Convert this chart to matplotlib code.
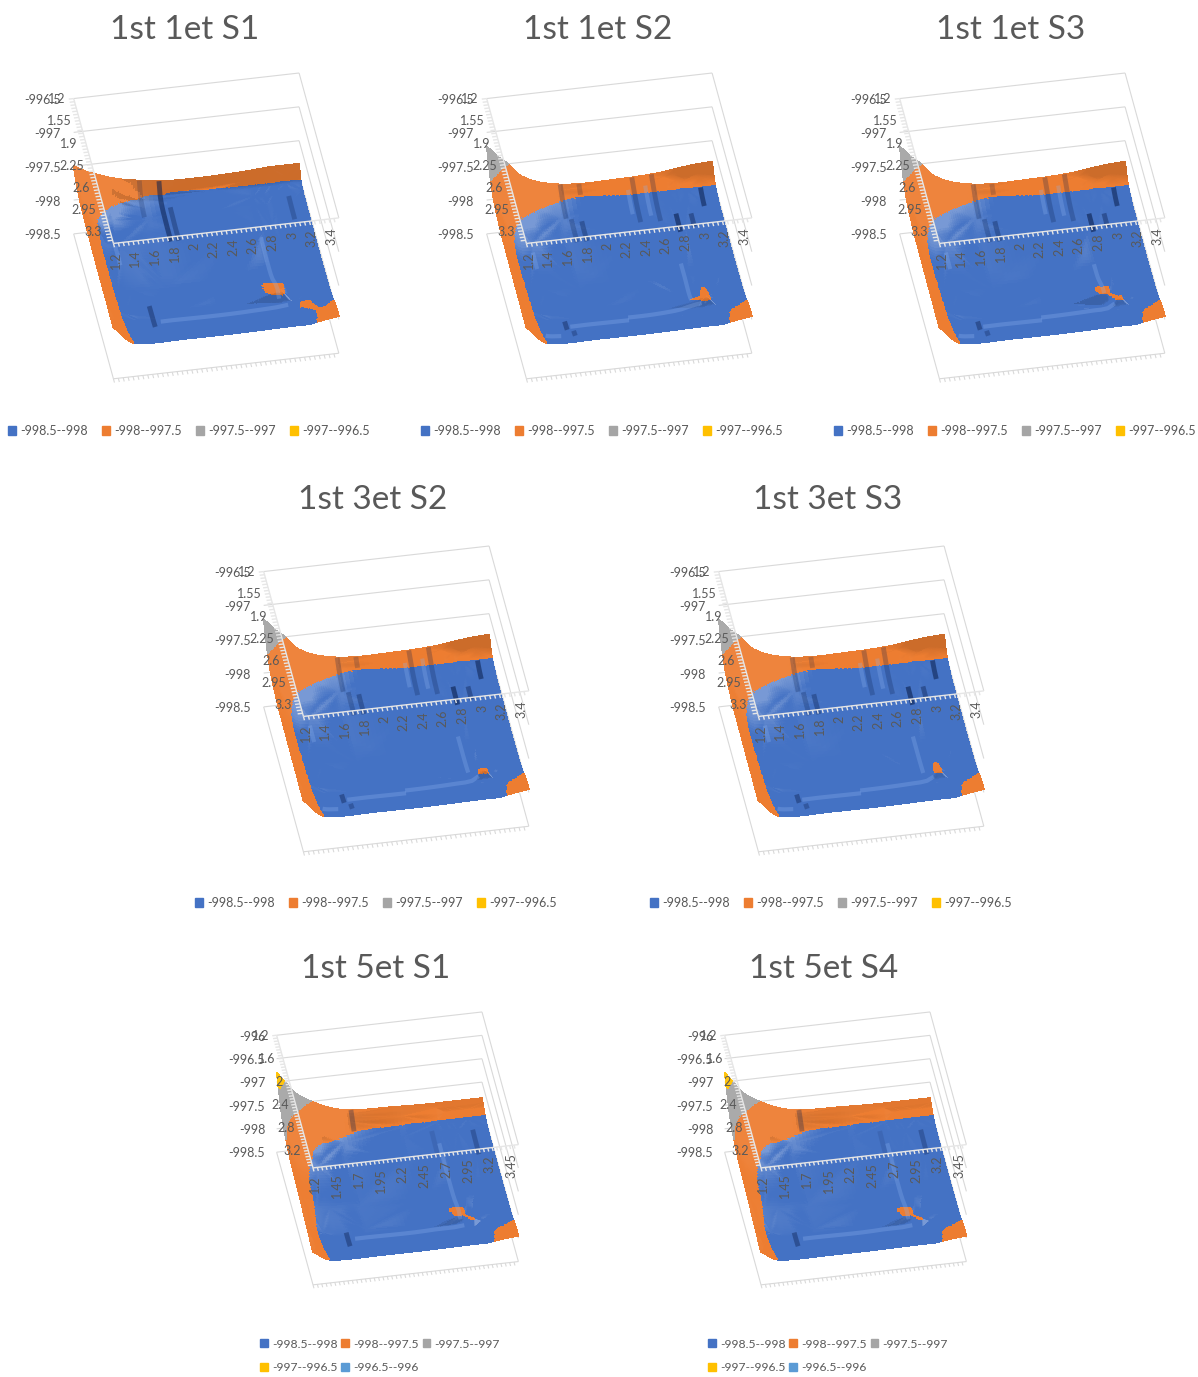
import numpy as np
import matplotlib
matplotlib.use('Agg')
import matplotlib.pyplot as plt
import matplotlib.tri as mtri
from matplotlib.patches import Patch
from mpl_toolkits.mplot3d import proj3d
from mpl_toolkits.mplot3d.art3d import Poly3DCollection, Line3DCollection

W, H = 1198, 1377
plt.rcParams['font.family'] = ['Lato', 'DejaVu Sans']

# energy above -998, rows = y knots, columns = x knots
X_KNOTS = [1.2, 1.25, 1.3, 1.4, 1.55, 1.9, 2.6, 3.0, 3.1, 3.2, 3.35, 3.5]
Y_KNOTS = [1.2, 1.25, 1.3, 1.4, 1.55, 1.9, 2.6, 3.0, 3.1, 3.2, 3.35, 3.5]
X_KNOTS_5ET = [1.2, 1.25, 1.3, 1.4, 1.55, 1.9, 2.6, 3.0, 3.1, 3.2, 3.35, 3.55]

Z_S1 = [
    [.50, .46, .42, .36, .28, .17, .12, .14, .15, .16, .16, .16],
    [.47, .42, .37, .30, .20, .04, .03, .05, .05, .05, .05, .05],
    [.44, .37, .30, .20, .08, -.02, -.01, -.01, -.01, -.01, -.01, -.01],
    [.38, .30, .22, .10, -.02, -.07, -.06, -.06, -.06, -.06, -.05, -.05],
    [.34, .22, .12, -.02, -.07, -.09, -.08, -.08, -.08, -.08, -.07, -.06],
    [.30, .18, .07, -.05, -.08, -.10, -.10, -.09, -.09, -.09, -.08, -.07],
    [.27, .15, .05, -.05, -.10, -.12, -.12, -.11, -.11, -.10, -.09, -.07],
    [.27, .16, .06, -.04, -.09, -.11, -.11, -.08, -.07, -.07, -.06, -.05],
    [.27, .16, .06, -.04, -.09, -.10, -.10, -.07, -.06, -.06, -.05, -.03],
    [.27, .17, .07, -.03, -.08, -.09, -.09, -.06, -.05, -.04, -.03, .00],
    [.26, .18, .08, -.02, -.06, -.06, -.06, -.04, -.04, -.03, .01, .04],
    [.26, .19, .11, .00, -.03, -.03, -.03, -.02, -.02, -.02, .02, .05],
]
Z_TRIP = [
    [.79, .72, .64, .52, .30, .12, .09, .12, .14, .16, .18, .19],
    [.74, .66, .58, .45, .25, .08, .07, .08, .09, .10, .11, .12],
    [.68, .60, .52, .39, .20, .04, .04, .05, .05, .05, .06, .06],
    [.55, .46, .38, .26, .10, -.02, -.01, -.01, -.01, -.01, -.01, -.01],
    [.42, .30, .20, .08, -.02, -.07, -.06, -.06, -.06, -.06, -.06, -.05],
    [.32, .20, .08, -.04, -.08, -.10, -.10, -.09, -.09, -.09, -.08, -.07],
    [.28, .15, .05, -.05, -.10, -.12, -.12, -.11, -.11, -.10, -.09, -.07],
    [.27, .16, .06, -.04, -.09, -.11, -.11, -.08, -.07, -.07, -.06, -.05],
    [.27, .16, .06, -.04, -.09, -.10, -.10, -.07, -.06, -.06, -.05, -.03],
    [.27, .17, .07, -.03, -.08, -.09, -.09, -.06, -.05, -.04, -.03, .00],
    [.26, .18, .08, -.02, -.06, -.06, -.06, -.04, -.04, -.03, .01, .04],
    [.26, .19, .11, .00, -.03, -.03, -.03, -.02, -.02, -.02, .02, .05],
]
Z_5ET = [
    [1.20, 1.08, .97, .74, .55, .27, .18, .16, .16, .16, .16, .16],
    [1.14, 1.02, .90, .68, .48, .22, .13, .11, .11, .11, .11, .11],
    [1.06, .94, .80, .60, .40, .16, .08, .07, .06, .06, .06, .06],
    [.90, .74, .60, .42, .24, .05, -.01, -.01, -.01, -.01, -.01, -.01],
    [.68, .52, .38, .20, .05, -.03, -.05, -.05, -.05, -.05, -.05, -.05],
    [.47, .30, .18, .04, -.04, -.07, -.08, -.08, -.08, -.08, -.08, -.07],
    [.36, .20, .09, -.02, -.07, -.09, -.10, -.09, -.09, -.09, -.09, -.07],
    [.28, .16, .04, -.05, -.09, -.10, -.10, -.08, -.07, -.06, -.06, -.05],
    [.26, .15, .04, -.05, -.09, -.10, -.10, -.07, -.07, -.06, -.05, -.03],
    [.25, .15, .05, -.04, -.08, -.09, -.09, -.06, -.05, -.04, -.03, .00],
    [.22, .15, .06, -.03, -.06, -.06, -.06, -.04, -.04, -.03, .01, .04],
    [.20, .15, .08, -.01, -.03, -.03, -.03, -.02, -.02, -.02, .02, .05],
]

TITLES = ['1st 1et S1', '1st 1et S2', '1st 1et S3', '1st 3et S2', '1st 3et S3', '1st 5et S1', '1st 5et S4']
TABLES = [Z_S1, Z_TRIP, Z_TRIP, Z_TRIP, Z_TRIP, Z_5ET, Z_5ET]

# small raised spots near the far corner: x knot, y knot, height above -998
BLOBS = [
    [(3.0, 3.0, .02), (3.2, 3.2, .02)],
    [(3.1, 3.0, .02), (3.1, 3.1, .03), (3.0, 3.1, .01)],
    [(3.0, 3.0, .01), (3.1, 3.1, .02)],
    [(3.1, 3.1, .03)],
    [(3.1, 3.1, .02), (3.1, 3.0, .01)],
    [(3.0, 3.0, .01), (3.1, 3.1, .01)],
    [(3.0, 3.0, .01), (3.1, 3.1, .01)],
]

# steps on the surface: x, y start, y end, strength
STEPS_S1 = [(1.87, 1.2, 1.5, .2), (2.07, 1.2, 1.9, .55), (2.15, 1.4, 1.9, .35), (1.68, 2.85, 3.2, .4), (3.35, 1.45, 1.8, .25)]
STEPS_TRIP = [(1.95, 1.2, 1.55, .25), (2.14, 1.2, 1.3, .2), (2.0, 1.56, 1.9, .25), (2.1, 1.6, 1.9, .35),
              (2.68, 1.2, 1.72, .25), (2.88, 1.2, 1.74, .25), (3.05, 1.66, 1.93, .6), (3.2, 1.68, 1.88, .4),
              (3.35, 1.38, 1.6, .55), (1.66, 3.1, 3.25, .4), (1.72, 3.28, 3.38, .3)]
STEPS_5ET = [(2.05, 1.2, 1.4, .3), (1.67, 3.0, 3.25, .4), (3.38, 1.55, 1.95, .3), (2.92, 1.5, 1.9, .12)]
STEPS = [STEPS_S1, STEPS_TRIP, STEPS_TRIP, STEPS_TRIP, STEPS_TRIP, STEPS_5ET, STEPS_5ET]

# light strips: x, y start, y end  /  y, x start, x end
LIGHT_COLS_TRIP = [(2.62, 1.32, 1.6), (2.8, 1.3, 1.65), (2.97, 2.4, 3.0), (1.53, 2.0, 2.25)]
LIGHT_ROWS_TRIP = [(3.2, 1.7, 2.3), (3.36, 1.42, 1.58), (3.15, 2.3, 3.05)]
LIGHT_COLS_S1 = [(2.97, 2.0, 3.05), (1.5, 1.9, 2.2)]
LIGHT_ROWS_S1 = [(3.12, 1.75, 3.05)]
LIGHT_COLS_5ET = [(2.97, 1.7, 3.05)]
LIGHT_ROWS_5ET = [(3.12, 1.75, 3.0)]
LIGHT_COLS = [LIGHT_COLS_S1, LIGHT_COLS_TRIP, LIGHT_COLS_TRIP, LIGHT_COLS_TRIP, LIGHT_COLS_TRIP, LIGHT_COLS_5ET, LIGHT_COLS_5ET]
LIGHT_ROWS = [LIGHT_ROWS_S1, LIGHT_ROWS_TRIP, LIGHT_ROWS_TRIP, LIGHT_ROWS_TRIP, LIGHT_ROWS_TRIP, LIGHT_ROWS_5ET, LIGHT_ROWS_5ET]

X_TICKS = [1.2, 1.4, 1.6, 1.8, 2, 2.2, 2.4, 2.6, 2.8, 3, 3.2, 3.4]
Y_TICKS = [1.2, 1.55, 1.9, 2.25, 2.6, 2.95, 3.3]
Z_TICKS = [-998.5, -998, -997.5, -997, -996.5]
X_TICKS_5ET = [1.2, 1.45, 1.7, 1.95, 2.2, 2.45, 2.7, 2.95, 3.2, 3.45]
Y_TICKS_5ET = [1.2, 1.6, 2, 2.4, 2.8, 3.2]
Z_TICKS_5ET = [-998.5, -998, -997.5, -997, -996.5, -996]

BAND_LEVELS = [-998.5, -998, -997.5, -997, -996.5, -996]
BAND_LABELS = ['-998.5--998', '-998--997.5', '-997.5--997', '-997--996.5', '-996.5--996']
BAND_COLORS = ['#4472C4', '#ED7D31', '#A5A5A5', '#FFC000', '#5B9BD5']

# pixel layout of each panel: back left floor corner, title centre, legend centre
CORNERS = [(75, 233), (488, 233), (901, 233), (265, 706), (720, 706), (277, 1152), (725, 1152)]
TITLE_POS = [(185, 30), (598, 30), (1011, 30), (373, 500), (828, 500), (376, 969), (824, 969)]
LEGEND_POS = [(189, 431), (602, 431), (1015, 431), (376, 903), (831, 903), (380, 1356), (828, 1356)]

GREY = '#D9D9D9'
TXT = '#595959'


def draw_surface(ax, table, xk, blobs, sizes):
    zz = -998 + np.array(table, dtype=float)
    for bx, by, bz in blobs:
        zz[Y_KNOTS.index(by), xk.index(bx)] = -998 + bz
    xx, yy = np.meshgrid(xk, Y_KNOTS)
    tri = mtri.Triangulation(xx.ravel(), yy.ravel())
    interp = mtri.CubicTriInterpolator(tri, zz.ravel(), kind='geom')
    tri2, z2 = mtri.UniformTriRefiner(tri).refine_field(zz.ravel(), triinterpolator=interp, subdiv=4)
    tris = tri2.triangles
    p = np.column_stack([tri2.x * sizes[0], tri2.y * sizes[1], z2 * sizes[2]])[tris]
    n = np.cross(p[:, 1] - p[:, 0], p[:, 2] - p[:, 0])
    n = n * np.sign(n[:, 2])[:, None]
    n = n / np.linalg.norm(n, axis=1)[:, None]
    zc = z2[tris].mean(axis=1)
    band = np.clip(np.digitize(zc, BAND_LEVELS) - 1, 0, 4)
    rgb = np.array([matplotlib.colors.to_rgb(c) for c in BAND_COLORS])[band]
    # blue lightens where the floor curves up in both directions, orange stays saturated
    light = np.clip(1.6 * np.minimum(n[:, 0], n[:, 1]), 0, .28) * np.where(band == 0, 1, .2)
    # only the steep top of the far rim goes darker
    dark = np.clip((n[:, 1] - .5) * .8, 0, .14) * (n[:, 0] < .15)
    rgb = rgb * (1 - dark)[:, None]
    rgb = rgb + (1 - rgb) * light[:, None]
    verts = np.stack([np.column_stack([tri2.x[t], tri2.y[t], z2[t]]) for t in tris])
    ax.add_collection3d(Poly3DCollection(verts, facecolors=rgb, edgecolors=rgb, linewidths=.5, antialiased=False, zorder=2))
    return interp


def draw_strip(ax, interp, xs, ys, color, alpha, lw):
    ax.plot(xs, ys, np.ma.filled(interp(xs, ys), -998.1), color=color, alpha=alpha, lw=lw, zorder=3,
            solid_capstyle='butt')


def put_text(ax, x, y, z, s, **kw):
    px, py, _ = proj3d.proj_transform(x, y, z, ax.get_proj())
    ax.text2D(px, py, s, transform=ax.transData, fontsize=9, color=TXT, zorder=5, **kw)


def draw_panel(i):
    is5 = i >= 5
    xmax = 3.55 if is5 else 3.5
    ymax = 3.5
    zmax = -996 if is5 else -996.5
    size = (209, 210, 153) if is5 else (228, 228, 176)
    wpx = 323 if is5 else 358
    off = (120.5, -3.6) if is5 else (131.25, -7.1)
    xk = X_KNOTS_5ET if is5 else X_KNOTS
    xt = X_TICKS_5ET if is5 else X_TICKS
    yt = Y_TICKS_5ET if is5 else Y_TICKS
    zt = Z_TICKS_5ET if is5 else Z_TICKS

    cx = CORNERS[i][0] + off[0]
    cy = CORNERS[i][1] + off[1]
    left = cx - .5135 * wpx
    bottom_px = cy + .5135 * wpx
    ax = fig.add_axes([left / W, 1 - bottom_px / H, wpx / W, wpx / H], projection='3d', computed_zorder=False)
    ax.set_proj_type('ortho')
    ax.view_init(elev=40, azim=-100)
    ax.set_xlim(1.2, xmax)
    ax.set_ylim(ymax, 1.2)
    ax.set_zlim(-998.5, zmax)
    ax.set_box_aspect(size)
    ax.set_axis_off()
    ax.patch.set_alpha(0)

    # walls behind the surface
    walls = []
    for z in zt:
        walls.append([(1.2, 1.2, z), (xmax, 1.2, z)])
        walls.append([(xmax, 1.2, z), (xmax, ymax, z)])
    walls.append([(1.2, 1.2, -998.5), (1.2, ymax, -998.5)])
    walls.append([(1.2, ymax, -998.5), (xmax, ymax, -998.5)])
    for xv in np.arange(1.2, xmax, .05):
        walls.append([(xv, ymax, -998.5), (xv, ymax + .06, -998.5)])
    ax.add_collection3d(Line3DCollection(walls, colors=GREY, linewidths=.8, zorder=1))

    interp = draw_surface(ax, TABLES[i], xk, BLOBS[i], (size[0] / (xmax - 1.2), size[1] / 2.3, size[2] / (zmax + 998.5)))

    for x0, y0, y1, s in STEPS[i]:
        ys = np.linspace(y0, y1, 12)
        draw_strip(ax, interp, np.full(12, x0), ys, '#0B1F4D', s, 3.5)
    for x0, y0, y1 in LIGHT_COLS[i]:
        ys = np.linspace(y0, y1, 12)
        draw_strip(ax, interp, np.full(12, x0), ys, '#8DB3F0', .28, 3)
    for y0, x0, x1 in LIGHT_ROWS[i]:
        xs = np.linspace(x0, x1, 12)
        draw_strip(ax, interp, xs, np.full(12, y0), '#8DB3F0', .3, 3)

    # axes on the top plane, drawn over the surface
    top = [[(1.2, ymax, zmax), (xmax, ymax, zmax)], [(1.2, 1.2, zmax), (1.2, ymax, zmax)]]
    for xv in np.arange(1.2, xmax, .05):
        top.append([(xv, ymax, zmax), (xv, ymax + .06, zmax)])
    for yv in np.arange(1.2, ymax, .05):
        top.append([(1.2, yv, zmax), (1.2 - .05, yv, zmax)])
    ax.add_collection3d(Line3DCollection(top, colors='#E6E6E6', linewidths=1.0, zorder=4))

    for v in xt:
        put_text(ax, v, ymax + .13, zmax, f'{v:g}', rotation=90, ha='center', va='top')
    for v in yt:
        put_text(ax, 1.2 - .08, v, zmax, f'{v:g}', ha='right', va='center')
    for v in zt:
        put_text(ax, 1.2 - .13, 1.2, v, f'{v:g}', ha='right', va='center')

    fig.text(TITLE_POS[i][0] / W, 1 - TITLE_POS[i][1] / H, TITLES[i], ha='center', va='center', fontsize=24, color=TXT)

    handles = [Patch(color=c, label=l) for c, l in zip(BAND_COLORS, BAND_LABELS)]
    if is5:
        handles = [handles[j] for j in (0, 3, 1, 4, 2)]
    else:
        handles = handles[:4]
    fig.legend(handles=handles, loc='center', ncol=3 if is5 else 4, frameon=False, fontsize=8.7 if is5 else 9,
               labelcolor=TXT, handlelength=.65, handleheight=.65, handletextpad=.35,
               columnspacing=.3 if is5 else 1.1, labelspacing=1.05, borderpad=0,
               bbox_to_anchor=(LEGEND_POS[i][0] / W, 1 - LEGEND_POS[i][1] / H))


fig = plt.figure(figsize=(W / 100, H / 100), dpi=100)
for i in range(7):
    draw_panel(i)
fig.savefig('out.png', dpi=100)
